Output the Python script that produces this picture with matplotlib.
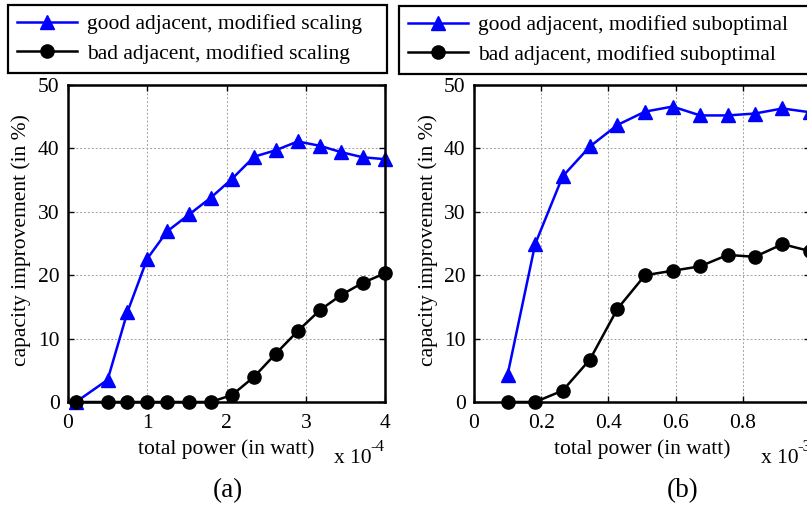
import numpy as np
import matplotlib
matplotlib.use("Agg")
import matplotlib.pyplot as plt

plt.rcParams['font.family'] = ['Liberation Serif', 'DejaVu Serif']

# panel (a): total power in units of 1e-4 W
pa = [0.1, 0.5, 0.75, 1.0, 1.25, 1.53, 1.8, 2.07, 2.35, 2.62, 2.9, 3.18, 3.45, 3.72, 4.0]
good_a = [0.0, 3.5, 14.2, 22.6, 26.9, 29.6, 32.2, 35.2, 38.7, 39.7, 41.1, 40.4, 39.4, 38.6, 38.3]
bad_a = [0.0, 0.0, 0.0, 0.0, 0.0, 0.0, 0.0, 1.1, 4.0, 7.6, 11.2, 14.5, 16.9, 18.8, 20.3]

# panel (b): total power in units of 1e-3 W
pb = [0.1, 0.182, 0.264, 0.345, 0.427, 0.509, 0.591, 0.673, 0.755, 0.836, 0.918, 1.0]
good_b = [4.3, 24.9, 35.6, 40.3, 43.7, 45.8, 46.6, 45.2, 45.2, 45.5, 46.3, 45.7]
bad_b = [0.0, 0.0, 1.8, 6.7, 14.7, 20.0, 20.7, 21.4, 23.2, 22.9, 24.9, 23.8]

W, H = 807, 516
FS = 15.5
fig = plt.figure(figsize=(W / 100, H / 100), dpi=100)


def px_axes(x0, x1, y0, y1):
    return fig.add_axes([x0 / W, 1 - y1 / H, (x1 - x0) / W, (y1 - y0) / H])


def setup(ax, xlim, xticks, xticklabels):
    ax.set_xlim(*xlim)
    ax.set_ylim(0, 50)
    ax.set_xticks(xticks)
    ax.set_xticklabels(xticklabels)
    ax.set_yticks([0, 10, 20, 30, 40, 50])
    ax.grid(True, color='#a0a0a0', linestyle=(0, (2, 2)), linewidth=0.7)
    ax.tick_params(direction='in', top=True, right=True, labelsize=FS,
                   length=4, width=1.0)
    ax.tick_params(axis='x', pad=9)
    ax.tick_params(axis='y', pad=6)
    for s in ax.spines.values():
        s.set_linewidth(1.8)
    ax.set_xlabel('total power (in watt)', fontsize=FS, labelpad=4)
    ax.set_ylabel('capacity improvement (in %)', fontsize=FS)


ax1 = px_axes(68, 385, 85, 402)
ax1.plot(pa, good_a, color='#0000ff', marker='^', markersize=9.5, linewidth=1.8,
         label='good adjacent, modified scaling', clip_on=False)
ax1.plot(pa, bad_a, color='black', marker='o', markersize=9.5, linewidth=1.8,
         label='bad adjacent, modified scaling', clip_on=False)
setup(ax1, (0, 4), [0, 1, 2, 3, 4], ['0', '1', '2', '3', '4'])
ax1.yaxis.set_label_coords(-37 / 317, 0.51)

ax2 = px_axes(474, 810, 85, 402)
ax2.plot(pb, good_b, color='#0000ff', marker='^', markersize=9.5, linewidth=1.8,
         label='good adjacent, modified suboptimal', clip_on=False)
ax2.plot(pb, bad_b, color='black', marker='o', markersize=9.5, linewidth=1.8,
         label='bad adjacent, modified suboptimal', clip_on=False)
setup(ax2, (0, 1), [0, 0.2, 0.4, 0.6, 0.8, 1.0], ['0', '0.2', '0.4', '0.6', '0.8', '1'])
ax2.yaxis.set_label_coords(-36 / 336, 0.51)

for ax, x0, x1, y0, y1 in [(ax1, 8, 387, 5, 72), (ax2, 399, 812, 6, 73)]:
    leg = ax.legend(loc='upper left',
                    bbox_to_anchor=(x0 / W, 1 - y1 / H, (x1 - x0) / W, (y1 - y0) / H),
                    bbox_transform=fig.transFigure, borderaxespad=0, mode='expand',
                    fontsize=FS, handlelength=2.8, fancybox=False,
                    framealpha=1, edgecolor='black', labelspacing=0.45,
                    borderpad=0.42, handletextpad=0.45)
    leg.get_frame().set_linewidth(1.6)

# "x 10^-n" multiplier under each x axis
fig.text(334 / W, 1 - 463 / H, 'x 10', fontsize=FS, va='baseline')
fig.text(370 / W, 1 - 451 / H, '-4', fontsize=12, va='baseline')
fig.text(761 / W, 1 - 463 / H, 'x 10', fontsize=FS, va='baseline')
fig.text(797 / W, 1 - 451 / H, '-3', fontsize=12, va='baseline')

fig.text(228 / W, 1 - 491 / H, '(a)', fontsize=19.5, ha='center', va='center')
fig.text(683 / W, 1 - 491 / H, '(b)', fontsize=19.5, ha='center', va='center')

fig.savefig('out.png', dpi=100)
